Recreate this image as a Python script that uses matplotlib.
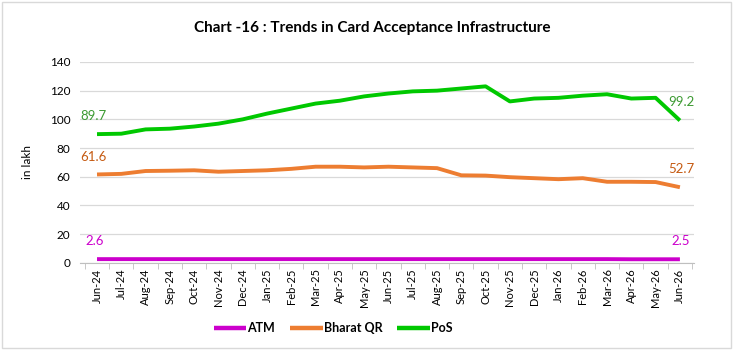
import numpy as np
import matplotlib.pyplot as plt

months = ["Jun-24", "Jul-24", "Aug-24", "Sep-24", "Oct-24", "Nov-24", "Dec-24",
          "Jan-25", "Feb-25", "Mar-25", "Apr-25", "May-25", "Jun-25", "Jul-25",
          "Aug-25", "Sep-25", "Oct-25", "Nov-25", "Dec-25", "Jan-26", "Feb-26",
          "Mar-26", "Apr-26", "May-26", "Jun-26"]

atm = [2.6, 2.6, 2.6, 2.6, 2.6, 2.6, 2.6, 2.6, 2.6, 2.6, 2.6, 2.6, 2.6,
       2.6, 2.6, 2.6, 2.6, 2.6, 2.6, 2.6, 2.6, 2.6, 2.5, 2.5, 2.5]
bharat_qr = [61.6, 62.0, 64.0, 64.2, 64.5, 63.5, 64.0, 64.5, 65.5, 67.0, 67.0, 66.5,
             67.0, 66.5, 66.0, 61.0, 60.8, 59.7, 59.0, 58.3, 59.0, 56.5, 56.5, 56.3, 52.7]
pos = [89.7, 90.0, 93.0, 93.5, 95.0, 97.0, 100.0, 104.0, 107.5, 111.0, 113.0, 116.0,
       118.0, 119.5, 120.0, 121.5, 123.0, 112.5, 114.5, 115.0, 116.5, 117.5, 114.5,
       115.0, 99.2]

plt.rcParams['font.family'] = ['Lato', 'DejaVu Sans']

fig = plt.figure(figsize=(7.34, 3.5), dpi=100)
ax = fig.add_axes([0.109, 0.249, 0.8365, 0.574])

x = np.arange(len(months))
ax.plot(x, atm, color='#CC00CC', lw=2.8, label='ATM', solid_capstyle='butt')
ax.plot(x, bharat_qr, color='#ED7D31', lw=2.8, label='Bharat QR', solid_capstyle='butt')
ax.plot(x, pos, color='#00C800', lw=2.8, label='PoS', solid_capstyle='butt')

# first / last labels
lab = dict(fontsize=9.5, ha='center', va='center')
ax.text(x[0] - 0.15, pos[0] + 12.7, f"{pos[0]:.1f}", color='#3C9A32', **lab)
ax.text(x[0] - 0.15, bharat_qr[0] + 12.2, f"{bharat_qr[0]:.1f}", color='#C55A11', **lab)
ax.text(x[0] - 0.1, atm[0] + 12.7, f"{atm[0]:.1f}", color='#CC00CC', **lab)
ax.text(x[-1] + 0.05, pos[-1] + 12.8, f"{pos[-1]:.1f}", color='#3C9A32', **lab)
ax.text(x[-1] + 0.05, bharat_qr[-1] + 13, f"{bharat_qr[-1]:.1f}", color='#C55A11', **lab)
ax.text(x[-1] + 0.05, atm[-1] + 12.8, f"{atm[-1]:.1f}", color='#CC00CC', **lab)

ax.set_xlim(-0.7, len(months) - 0.42)
ax.set_ylim(0, 140)
ax.set_yticks(range(0, 141, 20))
ax.set_xticks(x)
ax.set_xticklabels(months, rotation=90, fontsize=8)
ax.set_xticks(np.arange(-0.5, len(months), 1), minor=True)
ax.tick_params(axis='x', which='major', length=0, pad=4)
ax.tick_params(axis='x', which='minor', length=4, color='#BFBFBF')
ax.tick_params(axis='y', length=0, labelsize=8.5, pad=7)
ax.grid(axis='y', color='#D9D9D9', lw=0.9)
ax.set_axisbelow(True)
for s in ['top', 'right', 'left']:
    ax.spines[s].set_visible(False)
ax.spines['bottom'].set_color('#BFBFBF')
ax.set_ylabel('in lakh', fontsize=8.5, labelpad=12)

fig.text(0.507, 0.92, 'Chart -16 : Trends in Card Acceptance Infrastructure',
         ha='center', va='center', fontsize=11, fontweight='bold')

fig.legend(loc='center', bbox_to_anchor=(0.454, 0.063), ncol=3, frameon=False,
           prop={'size': 9, 'weight': 'bold'}, handlelength=2.6,
           handletextpad=0.1, columnspacing=1.2)
for line in fig.legends[0].get_lines():
    line.set_linewidth(3.2)

fig.add_artist(plt.Rectangle((0.003, 0.006), 0.993, 0.988, transform=fig.transFigure,
                             fill=False, edgecolor='#D9D9D9', lw=1))

fig.savefig('out.png', dpi=100)
